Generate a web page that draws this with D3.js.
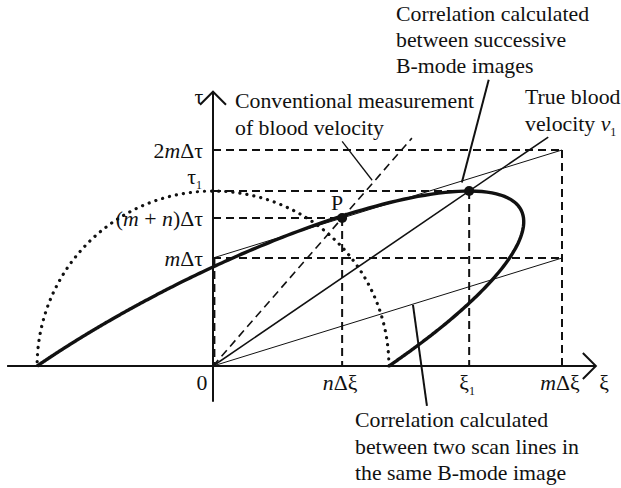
<!DOCTYPE html>
<html>
<head>
<meta charset="utf-8">
<script src="https://cdn.jsdelivr.net/npm/d3@7"></script>
<style>
  body { margin: 0; background: #fff; }
  text { font-family: "Liberation Serif", "Times New Roman", serif; font-size: 21.8px; fill: #111; }
</style>
</head>
<body>
<svg id="chart" width="621" height="488"></svg>
<script>
// diagram values (units: m = 1 on both axes)
const m = 1, n = 0.37
const xi1 = 0.734, tau1 = 1.62
const xiIntercept = 0.504          // where the correlation contour cuts the xi axis
const xiTicks = [{v: n * m, lab: 'nΔξ'}, {v: xi1, lab: 'ξ1'}, {v: m, lab: 'mΔξ'}]
const tauTicks = [{v: 2 * m, lab: '2mΔτ'}, {v: tau1, lab: 'τ1'}, {v: m + n, lab: '(m+n)Δτ'}, {v: m, lab: 'mΔτ'}]
const pointP = [n, m + n]
const pointPeak = [xi1, tau1]

const svg = d3.select('#chart')
const x = d3.scaleLinear().domain([0, 1]).range([213, 562])
const y = d3.scaleLinear().domain([0, 1]).range([366, 258])
const line = d3.line().x(d => x(d[0])).y(d => y(d[1]))

function seg(p, q, w, dash) {
    svg.append('line')
        .attr('x1', x(p[0])).attr('y1', y(p[1]))
        .attr('x2', x(q[0])).attr('y2', y(q[1]))
        .attr('stroke', '#111').attr('stroke-width', w)
        .attr('stroke-dasharray', dash || null)
}

// dashed guide lines
const dash = '8,5'
seg([0, 2 * m], [m, 2 * m], 2, dash)
seg([0, tau1], [xi1, tau1], 2, dash)
seg([0, m + n], [n, m + n], 2, dash)
seg([0, m], [m, m], 2, dash)
seg([n, m + n], [n, 0], 2, dash)
seg([xi1, tau1], [xi1, 0], 2, dash)
seg([m, 2 * m], [m, 0], 2, dash)
seg([0.004, m], [0.004, 0], 2, dash)

// dotted arc
const arc = d3.range(0, 181, 2).map(a => {
    const t = a * Math.PI / 180
    return [xiIntercept * Math.cos(t), tau1 * Math.sin(t)]
})
svg.append('path').attr('d', line(arc))
    .attr('fill', 'none').attr('stroke', '#111').attr('stroke-width', 3.2)
    .attr('stroke-dasharray', '0.1,7').attr('stroke-linecap', 'round')

// correlation contour (ellipse centred at origin)
const A = 1 / (xiIntercept * xiIntercept)
const B = -A * xi1 / tau1
const C = (1 + A * xi1 * xi1) / (tau1 * tau1)
const contour = d3.range(0, 180.5, 0.5).map(a => {
    const t = a * Math.PI / 180
    const c = Math.cos(t), s = Math.sin(t)
    const r = 1 / Math.sqrt(A * c * c + 2 * B * c * s + C * s * s)
    return [r * c, r * s]
})
svg.append('path').attr('d', line(contour))
    .attr('fill', 'none').attr('stroke', '#111').attr('stroke-width', 3.4)

// lines through origin
seg([0, 0], [2.11 * n / (m + n), 2.11], 1.6, '8,5')          // conventional
seg([0, 0], [2.12 * xi1 / tau1, 2.12], 1.6)                   // true velocity
seg([0, 0], [m, m], 1)                                         // same image
seg([0, m], [m, 2 * m], 1)                                     // successive images

// leaders
seg([0.37, 2.08], [0.456, 1.72], 1.3)
seg([0.79, 2.65], [0.713, 1.70], 2)
seg([0.573, 0.565], [0.613, -0.37], 2)

// axes
seg([-0.59, 0], [1.097, 0], 2)
seg([0, -0.33], [0, 2.54], 2)
const ax = x(1.097), ay = y(0)
svg.append('path').attr('d', `M${ax - 13},${ay - 13}L${ax},${ay}L${ax - 13},${ay + 13}`)
    .attr('fill', 'none').attr('stroke', '#111').attr('stroke-width', 2)
const tx = x(0), ty = y(2.54)
svg.append('path').attr('d', `M${tx - 13},${ty + 13}L${tx},${ty}L${tx + 13},${ty + 13}`)
    .attr('fill', 'none').attr('stroke', '#111').attr('stroke-width', 2)

// points
svg.selectAll('circle.pt').data([pointP, pointPeak]).join('circle')
    .attr('cx', d => x(d[0])).attr('cy', d => y(d[1])).attr('r', 5).attr('fill', '#111')

// math labels
function mathText(sel, lab) {
    const parts = {
        'nΔξ': [['n', 1], ['Δξ', 0]],
        'ξ1': [['ξ', 0], ['1', 2]],
        'mΔξ': [['m', 1], ['Δξ', 0]],
        '2mΔτ': [['2', 0], ['m', 1], ['Δτ', 0]],
        'τ1': [['τ', 0], ['1', 2]],
        '(m+n)Δτ': [['(', 0], ['m', 1], [' + ', 0], ['n', 1], [')Δτ', 0]],
        'mΔτ': [['m', 1], ['Δτ', 0]]
    }[lab]
    parts.forEach(p => {
        const ts = sel.append('tspan').text(p[0])
        if (p[1] === 1) ts.attr('font-style', 'italic')
        if (p[1] === 2) ts.attr('font-size', 12).attr('dy', 5)
    })
}
svg.selectAll('text.xt').data(xiTicks).join('text')
    .attr('x', d => x(d.v) - 2).attr('y', 390).attr('text-anchor', 'middle')
    .each(function(d) { mathText(d3.select(this), d.lab) })
svg.selectAll('text.yt').data(tauTicks).join('text')
    .attr('x', d => d.lab === 'τ1' ? 202 : 203).attr('y', d => y(d.v) + (d.lab === 'τ1' ? -7 : 8))
    .attr('text-anchor', 'end')
    .each(function(d) { mathText(d3.select(this), d.lab) })

svg.append('text').attr('x', 202).attr('y', 390).attr('text-anchor', 'middle').text('0')
svg.append('text').attr('x', 604).attr('y', 390).attr('text-anchor', 'middle').text('ξ')
svg.append('text').attr('x', 199).attr('y', 104).attr('text-anchor', 'middle').text('τ')
svg.append('text').attr('x', x(n) - 5).attr('y', y(m + n) - 8).attr('text-anchor', 'middle').text('P')

// annotation text
function block(x0, y0, lines, step) {
    lines.forEach((l, i) => {
        const t = svg.append('text').attr('x', x0).attr('y', y0 + i * (step || 26.5))
        if (typeof l === 'string') t.text(l)
        else l.forEach(p => {
            const ts = t.append('tspan').text(p[0])
            if (p[1] === 1) ts.attr('font-style', 'italic')
            if (p[1] === 2) ts.attr('font-size', 12).attr('dy', 5)
        })
    })
}
block(396, 21, ['Correlation calculated', 'between successive', 'B-mode images'], 26)
block(235, 108, ['Conventional measurement', 'of blood velocity'], 27)
block(525, 104, ['True blood', [['velocity ', 0], ['v', 1], ['1', 2]]], 27)
block(355, 427, ['Correlation calculated', 'between two scan lines in', 'the same B-mode image'], 26.5)
</script>
</body>
</html>
